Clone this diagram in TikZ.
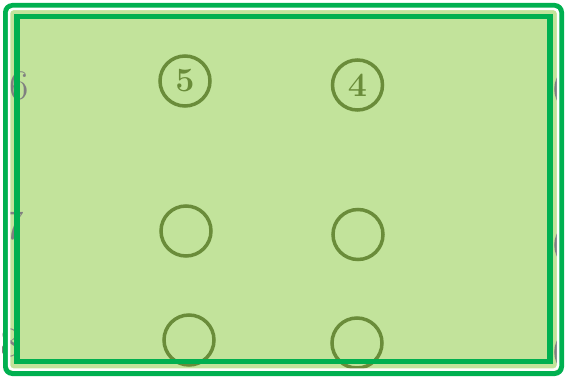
\documentclass[tikz,border=0pt]{standalone}
\definecolor{fillgreen}{HTML}{C2E39B}
\definecolor{bordergreen}{HTML}{00B050}
\definecolor{ringgreen}{HTML}{6A8C3A}
\definecolor{ghostgray}{HTML}{808080}
\begin{document}
\begin{tikzpicture}[x=1pt,y=-1pt,
  ring/.style={circle, draw=ringgreen, line width=3.5pt, minimum size=50pt, inner sep=0pt,
    text=ringgreen, font=\fontsize{34}{34}\selectfont\bfseries},
  ghost/.style={text=ghostgray, inner sep=0pt, font=\fontsize{42}{42}\selectfont},
  ghostring/.style={circle, draw=ghostgray, line width=3.5pt, minimum size=50pt, inner sep=0pt}]
\useasboundingbox (0,0) rectangle (565,377);
\clip (0,0) rectangle (565,377);
\fill[white] (0,0) rectangle (565,377);
\fill[fillgreen, rounded corners=6pt] (5,5) rectangle (561.5,373.5);
% partial content at the edges
\node[ghost] (g6) at (19,86) {6};
\node[ghost] (g7) at (14,226) {7};
\node[ghost] (g8) at (10,343) {8};
\node[ghostring] (r1) at (581,89) {};
\node[ghostring] (r2) at (581,245) {};
\node[ghostring] (r3) at (581,352) {};
% circles
\node[ring] (c5) at (185,81) {5};
\node[ring] (c4) at (357.5,85) {4};
\node[ring] (c7) at (186,231) {};
\node[ring] (c6) at (358,234.5) {};
\node[ring] (c9) at (189,340) {};
\node[ring] (c8) at (357,343) {};
% borders
\draw[white, line width=4pt] (0,0) rectangle (565,377);
\draw[bordergreen, line width=5pt, rounded corners=7pt] (5.5,5.5) rectangle (561.5,373.5);
\draw[white, line width=2.5pt, rounded corners=4pt] (9,9) rectangle (558,369.5);
\draw[bordergreen, line width=5.5pt] (17,16.5) rectangle (550,361.5);
\end{tikzpicture}
\end{document}
